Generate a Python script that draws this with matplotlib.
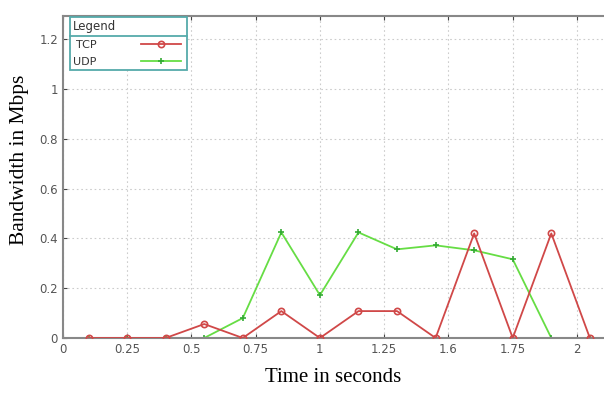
import matplotlib
matplotlib.use("Agg")
import matplotlib.pyplot as plt
from matplotlib.lines import Line2D

time_s = [0.1, 0.25, 0.4, 0.55, 0.7, 0.85, 1.0, 1.15, 1.3, 1.45, 1.6, 1.75, 1.9, 2.05]
tcp = [0, 0, 0, 0.056, 0, 0.108, 0, 0.108, 0.108, 0, 0.42, 0, 0.42, 0]
udp = [0, 0, 0, 0, 0.08, 0.424, 0.172, 0.424, 0.356, 0.372, 0.352, 0.316, 0, 0]
xtick_pos = [0, 0.25, 0.5, 0.75, 1.0, 1.25, 1.5, 1.75, 2.0]
xtick_labels = ["0", "0.25", "0.5", "0.75", "1", "1.25", "1.6", "1.75", "2"]
ytick_pos = [0, 0.2, 0.4, 0.6, 0.8, 1.0, 1.2]
ytick_labels = ["0", "0.2", "0.4", "0.6", "0.8", "1", "1.2"]

fig = plt.figure(figsize=(6.04, 3.96), dpi=100)
ax = fig.add_axes([0.104, 0.1465, 0.896, 0.8131])

red = "#d04848"
green = "#66dd44"
ax.plot(time_s, tcp, color=red, lw=1.3, marker="o", ms=4.5, mfc="none", mec=red, mew=1.2, label="TCP", zorder=3)
ax.plot(time_s, udp, color=green, lw=1.3, marker="+", ms=5, mec="#33aa33", mew=1.2, label="UDP", zorder=2)

ax.set_xlim(0, 2.105)
ax.set_ylim(0, 1.293)
ax.set_xticks(xtick_pos)
ax.set_xticklabels(xtick_labels)
ax.set_yticks(ytick_pos)
ax.set_yticklabels(ytick_labels)
ax.grid(True, color="#cccccc", ls=(0, (1.5, 2.5)), lw=0.8)
ax.tick_params(axis="both", direction="in", length=3, colors="#444444", labelsize=8.5, labelcolor="#555555", top=True)
for s in ["left", "bottom", "top"]:
    ax.spines[s].set_color("#888888")
    ax.spines[s].set_linewidth(1.5)
ax.spines["right"].set_visible(False)

ax.set_xlabel("Time in seconds", family="Liberation Serif", fontsize=15, labelpad=9)
ax.set_ylabel("Bandwidth in Mbps", family="Liberation Serif", fontsize=15.5)
ax.yaxis.set_label_coords(-0.062, 0.553)

leg = ax.legend(title="Legend", loc="upper left", bbox_to_anchor=(0.013, 0.997, 0.216, 0.0),
                mode="expand", markerfirst=False, handlelength=3.6, fontsize=8, title_fontsize=8.5,
                frameon=True, fancybox=False, borderaxespad=0, borderpad=0.3,
                labelspacing=0.6, handletextpad=4.0, alignment="left")
leg.get_frame().set_edgecolor("#55aaaa")
leg.get_frame().set_linewidth(1.3)
leg.get_frame().set_alpha(1)
for t in leg.get_texts():
    t.set_color("#333333")
leg.get_title().set_color("#333333")
ax.add_line(Line2D([0.013, 0.229], [0.938, 0.938], transform=ax.transAxes, color="#55aaaa", lw=1.3, zorder=10))

fig.savefig("out.png", dpi=100)
